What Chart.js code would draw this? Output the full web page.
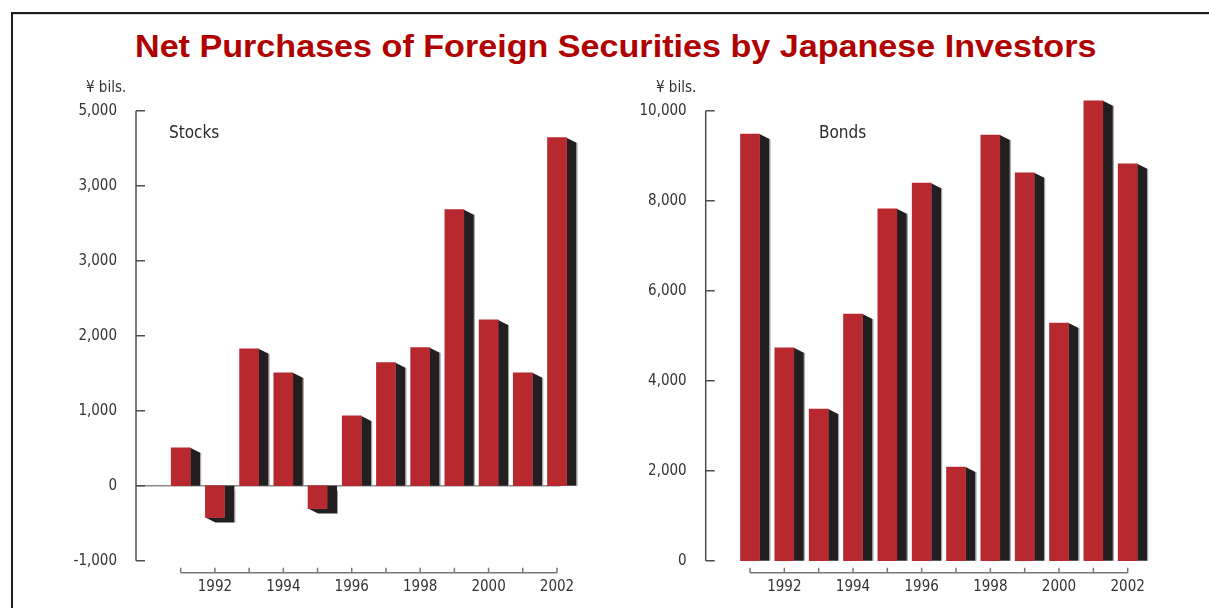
<!DOCTYPE html>
<html>
<head>
<meta charset="utf-8">
<title>Net Purchases of Foreign Securities by Japanese Investors</title>
<script src="https://cdn.jsdelivr.net/npm/chart.js@4.4.1/dist/chart.umd.min.js"></script>
<style>
    body {
        margin: 0;
        width: 1209px;
        height: 608px;
        overflow: hidden;
        position: relative;
        background: #fff;
        font-family: "DejaVu Sans Condensed", "Liberation Sans", sans-serif;
    }
    #frame {
        position: absolute;
        left: 11px;
        top: 12px;
        width: 1220px;
        height: 620px;
        border-top: 2px solid #1e1e1e;
        border-left: 2px solid #1e1e1e;
        box-shadow: inset 0 1px 0 #d8d8d8;
    }
    #title {
        position: absolute;
        left: 135px;
        top: 31px;
        line-height: 1;
        white-space: nowrap;
        font-family: "Liberation Sans", Arial, sans-serif;
        font-weight: bold;
        font-size: 31px;
        color: #b00000;
        transform-origin: 0 0;
    }
    canvas { position: absolute; top: 0; }
    #stocksChart { left: 0; }
    #bondsChart { left: 604px; }
    .unit, .panel { position: absolute; line-height: 1; white-space: nowrap; }
    .unit { font-size: 15px; color: #333; top: 80px; }
    .panel { font-size: 17px; color: #2a2a2a; top: 124px; }
</style>
</head>
<body>
<div id="frame"></div>
<div id="title">Net Purchases of Foreign Securities by Japanese Investors</div>
<canvas id="stocksChart" width="604" height="608"></canvas>
<canvas id="bondsChart" width="605" height="608"></canvas>
<div class="unit" style="left:86px">¥ bils.</div>
<div class="panel" style="left:169px">Stocks</div>
<div class="unit" style="left:656px">¥ bils.</div>
<div class="panel" style="left:819px">Bonds</div>

<script>
// Years on the x axis
const years = [1991, 1992, 1993, 1994, 1995, 1996, 1997, 1998, 1999, 2000, 2001, 2002];

// Net purchases, ¥ billions
const stocks = [505, -425, 1825, 1505, -305, 930, 1640, 1840, 3680, 2210, 1505, 4640];
const bonds = [9480, 4730, 3370, 5480, 7820, 8390, 2080, 9460, 8620, 5280, 10220, 8820];

// Y axis ticks and the labels printed beside them
const stockTicks = [-1000, 0, 1000, 2000, 3000, 4000, 5000];
const stockTickLabels = ['-1,000', '0', '1,000', '2,000', '3,000', '3,000', '5,000'];
const bondTicks = [0, 2000, 4000, 6000, 8000, 10000];
const bondTickLabels = ['0', '2,000', '4,000', '6,000', '8,000', '10,000'];

const FONT = '"DejaVu Sans Condensed", "Liberation Sans", sans-serif';
const RED = '#b8282f';
const SHADE = '#231f20';
const AXIS = '#4d4d4d';

Chart.defaults.font.family = FONT;
Chart.defaults.color = '#333';

const PLOT_TOP = 110.7;
const PLOT_BOTTOM = 560.7;
const DEPTH_X = 10, DEPTH_Y = 5; // extrusion of the dark side face

// squeeze the heading to a condensed width
const title = document.getElementById('title');
title.style.transform = 'scaleX(' + (962 / title.offsetWidth) + ')';

// Dark side faces behind the bars, plus hand-drawn axes
const depthPlugin = {
    id: 'depth',
    beforeDatasetsDraw(chart) {
        const ctx = chart.ctx;
        const xs = chart.scales.x;
        const ys = chart.scales.y;
        const o = chart.options.plugins.depth;
        const area = chart.chartArea;

        ctx.save();
        // zero line
        if (o.zeroLine) {
            const y0 = ys.getPixelForValue(0);
            ctx.strokeStyle = '#8c8c8c';
            ctx.lineWidth = 1.5;
            ctx.beginPath();
            ctx.moveTo(area.left, y0);
            ctx.lineTo(xs.getPixelForValue(years[years.length - 1]) + 3, y0);
            ctx.stroke();
        }

        // y axis line and inward ticks
        ctx.strokeStyle = AXIS;
        ctx.lineWidth = 1.5;
        ctx.beginPath();
        ctx.moveTo(area.left, ys.getPixelForValue(ys.max));
        ctx.lineTo(area.left, ys.getPixelForValue(ys.min));
        ys.ticks.forEach(t => {
            const y = ys.getPixelForValue(t.value);
            ctx.moveTo(area.left, y);
            ctx.lineTo(area.left + 9, y);
        });
        ctx.stroke();

        // x axis line sits a little below the plot
        const ax = area.bottom + 12;
        ctx.lineWidth = 1.5;
        ctx.strokeStyle = '#777';
        ctx.beginPath();
        ctx.moveTo(xs.getPixelForValue(years[0]), ax);
        ctx.lineTo(xs.getPixelForValue(years[years.length - 1]), ax);
        years.forEach(yr => {
            const x = xs.getPixelForValue(yr);
            ctx.moveTo(x, ax);
            ctx.lineTo(x, ax - 5);
        });
        ctx.stroke();

        // side faces
        chart.getDatasetMeta(0).data.forEach(bar => {
            const left = bar.x - bar.width / 2;
            const right = bar.x + bar.width / 2;
            ctx.fillStyle = SHADE;
            ctx.beginPath();
            if (bar.y <= bar.base) {
                ctx.moveTo(right, bar.y);
                ctx.lineTo(right + DEPTH_X, bar.y + DEPTH_Y);
                ctx.lineTo(right + DEPTH_X, bar.base);
                ctx.lineTo(right, bar.base);
            } else {
                ctx.moveTo(right, bar.base);
                ctx.lineTo(right + DEPTH_X, bar.base);
                ctx.lineTo(right + DEPTH_X, bar.y + DEPTH_Y);
                ctx.lineTo(left + DEPTH_X, bar.y + DEPTH_Y);
                ctx.lineTo(left, bar.y);
                ctx.lineTo(right, bar.y);
            }
            ctx.closePath();
            ctx.fill();

            // thin grey edge on the far side
            const top = Math.min(bar.y, bar.base);
            const bottom = Math.max(bar.y, bar.base);
            ctx.strokeStyle = '#9a9a9a';
            ctx.lineWidth = 1;
            ctx.beginPath();
            ctx.moveTo(right + DEPTH_X + 0.5, top + DEPTH_Y);
            ctx.lineTo(right + DEPTH_X + 0.5, bar.y > bar.base ? bottom + DEPTH_Y : bottom);
            ctx.stroke();
        });
        ctx.restore();
    }
};

function makeChart(id, values, yTicks, yLabels, axisX, firstX, lastX, rightX, canvasWidth, zeroLine) {
    const step = (lastX - firstX) / (years.length - 1);
    const xMin = years[0] - (firstX - axisX) / step;
    const xMax = years[years.length - 1] + (rightX - lastX) / step;

    return new Chart(document.getElementById(id), {
        type: 'bar',
        data: {
            datasets: [{
                data: years.map((yr, i) => ({ x: yr, y: values[i] })),
                backgroundColor: RED,
                borderWidth: 0,
                barThickness: 19,
                clip: false
            }]
        },
        options: {
            responsive: false,
            animation: false,
            layout: { padding: { top: PLOT_TOP, right: canvasWidth - rightX, bottom: 0, left: 0 } },
            plugins: {
                legend: { display: false },
                tooltip: { enabled: false },
                depth: { zeroLine: zeroLine }
            },
            scales: {
                x: {
                    type: 'linear',
                    offset: false,
                    min: xMin,
                    max: xMax,
                    grid: { display: false },
                    border: { display: false },
                    afterBuildTicks: s => { s.ticks = years.map(v => ({ value: v })); },
                    afterFit: s => { s.height = 608 - PLOT_BOTTOM; },
                    ticks: {
                        autoSkip: false,
                        maxRotation: 0,
                        padding: 9,
                        color: '#333',
                        font: { size: 15 },
                        callback: v => (v % 2 === 0 ? String(v) : '')
                    }
                },
                y: {
                    min: yTicks[0],
                    max: yTicks[yTicks.length - 1],
                    grid: { display: false },
                    border: { display: false },
                    afterBuildTicks: s => { s.ticks = yTicks.map(v => ({ value: v })); },
                    afterFit: s => { s.width = axisX; },
                    ticks: {
                        padding: 11,
                        color: '#333',
                        font: { size: 15 },
                        callback: (v, i) => yLabels[i]
                    }
                }
            }
        },
        plugins: [depthPlugin]
    });
}

makeChart('stocksChart', stocks, stockTicks, stockTickLabels, 136, 180.7, 557, 580, 604, true);
makeChart('bondsChart', bonds, bondTicks, bondTickLabels, 101.7, 146, 523.7, 556, 605, false);
</script>
</body>
</html>
